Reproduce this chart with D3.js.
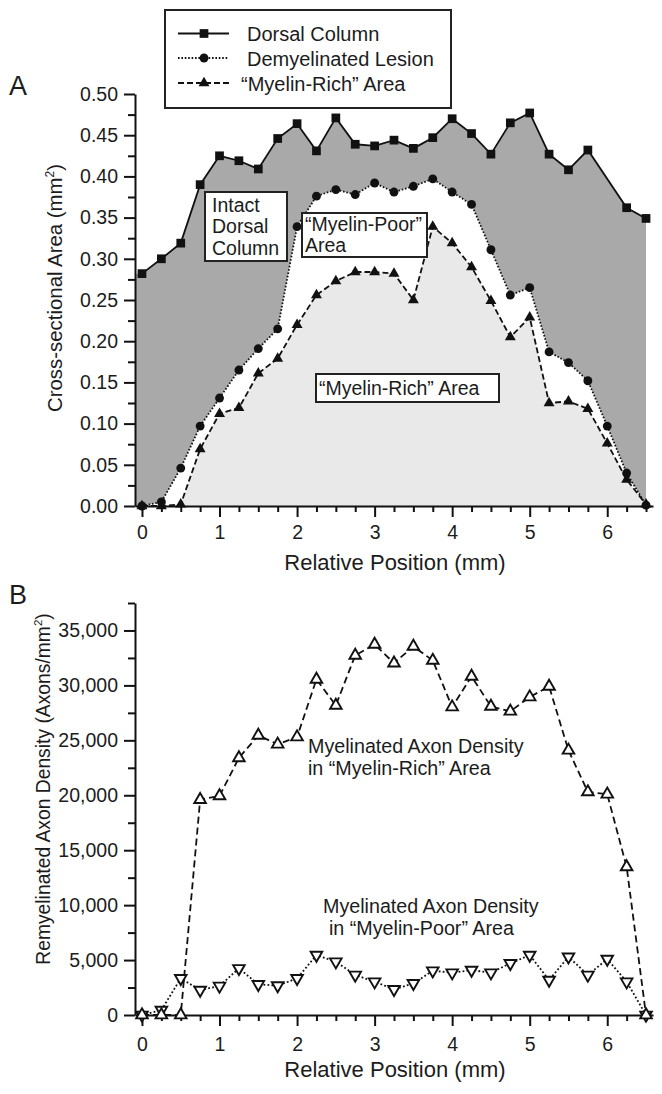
<!DOCTYPE html>
<html>
<head>
<meta charset="utf-8">
<script src="https://cdn.jsdelivr.net/npm/d3@7/dist/d3.min.js"></script>
<style>
  html, body { margin: 0; padding: 0; background: #fff; }
  svg { display: block; font-family: "Liberation Sans", Arial, Helvetica, sans-serif; }
  text { fill: #1c1c1c; }
</style>
</head>
<body>
<svg id="chart" width="662" height="1094"></svg>
<script>
// ---------- DATA ----------
const positions = [0, 0.25, 0.5, 0.75, 1, 1.25, 1.5, 1.75, 2, 2.25, 2.5, 2.75, 3, 3.25, 3.5,
  3.75, 4, 4.25, 4.5, 4.75, 5, 5.25, 5.5, 5.75, 6, 6.25, 6.5];

// Panel A: cross-sectional area (mm^2)
const dorsalColumn = [0.282, 0.300, 0.319, 0.390, 0.425, 0.419, 0.409, 0.446, 0.464, 0.431, 0.471,
  0.439, 0.437, 0.444, 0.434, 0.447, 0.470, 0.452, 0.427, 0.465, 0.477, 0.427, 0.408, 0.432,
  null, 0.362, 0.349];
const demyelinatedLesion = [0.000, 0.005, 0.046, 0.097, 0.131, 0.165, 0.191, 0.215, 0.339, 0.376,
  0.384, 0.378, 0.392, 0.381, 0.388, 0.397, 0.381, 0.366, 0.311, 0.256, 0.265, 0.187, 0.174,
  0.152, 0.097, 0.040, 0.001];
const myelinRichArea = [0.000, 0.000, 0.002, 0.069, 0.112, 0.119, 0.161, 0.179, 0.220, 0.256, 0.273,
  0.284, 0.284, 0.282, 0.250, 0.339, 0.319, 0.290, 0.249, 0.205, 0.229, 0.125, 0.127, 0.118,
  0.076, 0.032, 0.002];

// Panel B: remyelinated axon density (axons/mm^2)
const densityMyelinRich = [0, 0, 0, 19600, 19940, 23400, 25450, 24640, 25300, 30550, 28180, 32730,
  33730, 32030, 33550, 32270, 28030, 30820, 28090, 27640, 28940, 29910, 24090, 20300, 20090,
  13480, 0];
const densityMyelinPoor = [0, 450, 3330, 2270, 2640, 4240, 2790, 2670, 3330, 5450, 4850, 3640,
  3030, 2330, 2880, 4030, 3850, 4090, 3850, 4700, 5450, 3180, 5300, 3640, 5090, 3030, 0];

const xTicksMajor = [0, 1, 2, 3, 4, 5, 6];
const yTicksA = [0, 0.05, 0.10, 0.15, 0.20, 0.25, 0.30, 0.35, 0.40, 0.45, 0.50];
const yTicksB = [0, 5000, 10000, 15000, 20000, 25000, 30000, 35000];

const legendLabels = ["Dorsal Column", "Demyelinated Lesion", "\u201CMyelin-Rich\u201D Area"];

// ---------- SETUP ----------
const svg = d3.select("#chart");
const DARK = "#a9a9a9", LIGHT = "#e9e9e9", INK = "#111";

const pts = arr => positions.map((p, i) => ({x: p, y: arr[i]})).filter(d => d.y !== null);

const x = d3.scaleLinear().domain([-0.09, 6.59]).range([135, 653]);
const yA = d3.scaleLinear().domain([0, 0.5]).range([506, 94]);
const yB = d3.scaleLinear().domain([0, 37500]).range([1015, 603]);

const minorX = d3.range(0, 6.51, 0.25).filter(v => Math.abs(v - Math.round(v)) > 1e-6);

function drawAxes(g, y, yTicks, yFmt, yMinor, xPad) {
  // minor x
  const mx = g.append("g").attr("transform", `translate(0,${y.range()[0]})`)
    .call(d3.axisBottom(x).tickValues(minorX).tickSize(6).tickFormat(""));
  mx.select(".domain").remove();
  mx.selectAll("line").attr("stroke", INK).attr("stroke-width", 2);
  // major x
  const ax = g.append("g").attr("transform", `translate(0,${y.range()[0]})`)
    .call(d3.axisBottom(x).tickValues(xTicksMajor).tickSize(11).tickSizeOuter(0).tickPadding(xPad).tickFormat(d3.format("d")));
  ax.select(".domain").attr("stroke", INK).attr("stroke-width", 2);
  ax.selectAll("line").attr("stroke", INK).attr("stroke-width", 2);
  ax.selectAll("text").attr("font-size", 19.5).attr("fill", "#1c1c1c").attr("font-family", null);
  // minor y
  const my = g.append("g").attr("transform", `translate(${x.range()[0]},0)`)
    .call(d3.axisLeft(y).tickValues(yMinor).tickSize(7).tickFormat(""));
  my.select(".domain").remove();
  my.selectAll("line").attr("stroke", INK).attr("stroke-width", 2);
  // major y
  const ay = g.append("g").attr("transform", `translate(${x.range()[0]},0)`)
    .call(d3.axisLeft(y).tickValues(yTicks).tickSize(11).tickSizeOuter(0).tickPadding(6).tickFormat(yFmt));
  ay.select(".domain").attr("stroke", INK).attr("stroke-width", 2);
  ay.selectAll("line").attr("stroke", INK).attr("stroke-width", 2);
  ay.selectAll("text").attr("font-size", 19.5).attr("fill", "#1c1c1c").attr("font-family", null);
  g.selectAll(".tick").attr("font-family", null);
  g.selectAll("g").attr("font-family", null).attr("font-size", null);
}

// ---------- PANEL A ----------
const gA = svg.append("g");
const dorsalPts = pts(dorsalColumn);
const lesionPts = pts(demyelinatedLesion);
const richPts = pts(myelinRichArea);

const areaA = d3.area().x(d => x(d.x)).y0(yA(0)).y1(d => yA(d.y));
// dark fill reaches the left axis at the first value
const dorsalFill = [{x: x.domain()[0], y: dorsalPts[0].y}].concat(dorsalPts);
gA.append("path").attr("d", areaA(dorsalFill)).attr("fill", DARK);
gA.append("path").attr("d", areaA(lesionPts)).attr("fill", "#fff");
gA.append("path").attr("d", areaA(richPts)).attr("fill", LIGHT);

const yMinorA = d3.range(0.025, 0.5, 0.05);
drawAxes(gA, yA, yTicksA, d3.format(".2f"), yMinorA, 8);

const lineA = d3.line().x(d => x(d.x)).y(d => yA(d.y));
gA.append("path").attr("d", lineA(richPts)).attr("fill", "none").attr("stroke", INK)
  .attr("stroke-width", 1.8).attr("stroke-dasharray", "6,3");
gA.append("path").attr("d", lineA(lesionPts)).attr("fill", "none").attr("stroke", INK)
  .attr("stroke-width", 1.8).attr("stroke-dasharray", "1.6,1.8");
gA.append("path").attr("d", lineA(dorsalPts)).attr("fill", "none").attr("stroke", INK)
  .attr("stroke-width", 1.8);

const sym = (type, size) => d3.symbol().type(type).size(size)();
gA.selectAll(".sq").data(dorsalPts).join("path")
  .attr("d", sym(d3.symbolSquare, 76))
  .attr("transform", d => `translate(${x(d.x)},${yA(d.y)})`).attr("fill", INK);
gA.selectAll(".ci").data(lesionPts).join("path")
  .attr("d", sym(d3.symbolCircle, 62))
  .attr("transform", d => `translate(${x(d.x)},${yA(d.y)})`).attr("fill", INK);
gA.selectAll(".tr").data(richPts).join("path")
  .attr("d", sym(d3.symbolTriangle, 52))
  .attr("transform", d => `translate(${x(d.x)},${yA(d.y)})`).attr("fill", INK);

// annotation boxes
function box(g, rx, ry, rw, rh, lines, tx, baselines, fs) {
  g.append("rect").attr("x", rx).attr("y", ry).attr("width", rw).attr("height", rh)
    .attr("fill", "#fff").attr("stroke", "#222").attr("stroke-width", 2);
  lines.forEach((t, i) => g.append("text").attr("x", tx).attr("y", baselines[i])
    .attr("font-size", fs).text(t));
}
box(gA, 205, 192, 82, 69, ["Intact", "Dorsal", "Column"], 212, [211.5, 233, 254.5], 19.5);
box(gA, 302, 213, 125, 44, ["\u201CMyelin-Poor\u201D", "Area"], 305, [230.5, 252], 19.5);
box(gA, 316, 374, 183, 28, ["\u201CMyelin-Rich\u201D Area"], 319, [395], 19.5);

// legend
const lg = svg.append("g");
lg.append("rect").attr("x", 165).attr("y", 10).attr("width", 286).attr("height", 98)
  .attr("fill", "#fff").attr("stroke", "#222").attr("stroke-width", 2);
const legDash = [null, "1.6,1.8", "6,3"];
const legSym = [[d3.symbolSquare, 76], [d3.symbolCircle, 62], [d3.symbolTriangle, 52]];
const legBase = [41, 65.5, 90.5];
const legTx = [247, 247, 241];
legendLabels.forEach((lab, i) => {
  const cy = legBase[i] - 7.5;
  lg.append("line").attr("x1", 178).attr("x2", 229).attr("y1", cy).attr("y2", cy)
    .attr("stroke", INK).attr("stroke-width", 1.8).attr("stroke-dasharray", legDash[i]);
  lg.append("path").attr("d", sym(legSym[i][0], legSym[i][1]))
    .attr("transform", `translate(204,${cy})`).attr("fill", INK);
  lg.append("text").attr("x", legTx[i]).attr("y", legBase[i]).attr("font-size", 20).text(lab);
});

// titles A
svg.append("text").attr("x", 9).attr("y", 95).attr("font-size", 27).text("A");
svg.append("text").attr("x", 395).attr("y", 570).attr("text-anchor", "middle")
  .attr("font-size", 22).text("Relative Position (mm)");
const tA = svg.append("text").attr("transform", "translate(62,288) rotate(-90)")
  .attr("text-anchor", "middle").attr("font-size", 20.4);
tA.append("tspan").text("Cross-sectional Area (mm");
tA.append("tspan").attr("font-size", 12).attr("dy", -8).text("2");
tA.append("tspan").attr("dy", 8).text(")");

// ---------- PANEL B ----------
const gB = svg.append("g");
const yMinorB = d3.range(2500, 37501, 5000);
drawAxes(gB, yB, yTicksB, d => d === 0 ? "0" : d3.format(",")(d), yMinorB, 11);

const richD = pts(densityMyelinRich);
const poorD = pts(densityMyelinPoor);
const lineB = d3.line().x(d => x(d.x)).y(d => yB(d.y));
gB.append("path").attr("d", lineB(poorD)).attr("fill", "none").attr("stroke", INK)
  .attr("stroke-width", 1.8).attr("stroke-dasharray", "1.8,2.2");
gB.append("path").attr("d", lineB(richD)).attr("fill", "none").attr("stroke", INK)
  .attr("stroke-width", 1.8).attr("stroke-dasharray", "7,4");

gB.selectAll(".pd").data(poorD).join("path")
  .attr("d", sym(d3.symbolTriangle, 58))
  .attr("transform", d => `translate(${x(d.x)},${yB(d.y)}) rotate(180)`)
  .attr("fill", "#fff").attr("stroke", INK).attr("stroke-width", 1.9);
gB.selectAll(".rd").data(richD).join("path")
  .attr("d", sym(d3.symbolTriangle, 58))
  .attr("transform", d => `translate(${x(d.x)},${yB(d.y)})`)
  .attr("fill", "#fff").attr("stroke", INK).attr("stroke-width", 1.9);

// annotations B
gB.append("text").attr("x", 308).attr("y", 753).attr("font-size", 19.7).text("Myelinated Axon Density");
gB.append("text").attr("x", 308).attr("y", 775).attr("font-size", 19.7).text("in \u201CMyelin-Rich\u201D Area");
gB.append("text").attr("x", 323).attr("y", 913).attr("font-size", 19.7).text("Myelinated Axon Density");
gB.append("text").attr("x", 329).attr("y", 935).attr("font-size", 19.7).text("in \u201CMyelin-Poor\u201D Area");

// titles B
svg.append("text").attr("x", 9).attr("y", 604).attr("font-size", 27).text("B");
svg.append("text").attr("x", 395).attr("y", 1077).attr("text-anchor", "middle")
  .attr("font-size", 22).text("Relative Position (mm)");
const tB = svg.append("text").attr("transform", "translate(50,789) rotate(-90)")
  .attr("text-anchor", "middle").attr("font-size", 19.3);
tB.append("tspan").text("Remyelinated Axon Density (Axons/mm");
tB.append("tspan").attr("font-size", 11.5).attr("dy", -8).text("2");
tB.append("tspan").attr("dy", 8).text(")");
</script>
</body>
</html>
